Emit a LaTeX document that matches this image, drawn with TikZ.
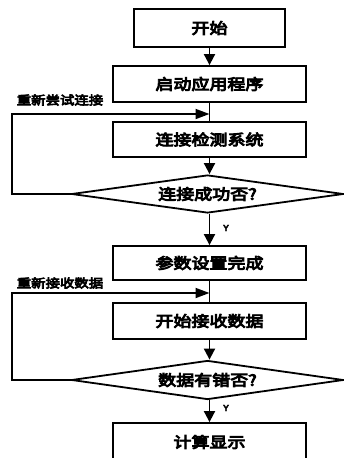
\documentclass[tikz,border=0pt]{standalone}
\usepackage{fontspec}
\newfontfamily\cjk[FakeBold=6,FakeStretch=1.2]{Noto Sans CJK SC}
\newfontfamily\ylabfont[FakeBold=3]{Liberation Sans}
\usetikzlibrary{shapes.geometric,arrows.meta}
\tikzset{
  box/.style={draw, line width=1.8pt, minimum width=193pt, inner sep=0pt, font=\cjk\fontsize{15}{15}\selectfont},
  dec/.style={draw, diamond, aspect=7.13, line width=1.8pt, minimum width=272pt, minimum height=38pt, inner sep=0pt, font=\cjk\fontsize{15}{15}\selectfont},
  flow/.style={line width=1.8pt},
  arr/.style={line width=1.8pt, -{Triangle[length=11pt,width=11pt]}},
  side/.style={font=\cjk\fontsize{12}{12}\selectfont, inner sep=0pt},
  ylab/.style={font=\ylabfont\bfseries\fontsize{9}{9}\selectfont, inner sep=0pt}
}
\begin{document}
\begin{tikzpicture}[x=1pt,y=-1pt]
\useasboundingbox (0,0) rectangle (344,458);
\clip (0,0) rectangle (344,458);
\fill[white] (0,0) rectangle (344,458);
\node[box, minimum width=151pt, minimum height=38pt] (b1) at (209.5,28) {开始};
\node[box, minimum height=36pt] (b2) at (209.5,84) {启动应用程序};
\node[box, minimum height=35pt] (b3) at (209.5,139.5) {连接检测系统};
\node[dec] (d1) at (207.5,194) {连接成功否?};
\node[box, minimum height=34pt] (b4) at (209.5,263) {参数设置完成};
\node[box, minimum height=36pt] (b5) at (209.5,321) {开始接收数据};
\node[dec, aspect=6.97, minimum height=39pt] (d2) at (207.5,380) {数据有错否?};
\node[box, minimum height=38pt] (b6) at (209.5,442) {计算显示};
\node[side] (l1) at (60,100) {重新尝试连接};
\node[side] (l2) at (60,283) {重新接收数据};
\node[ylab] (y1) at (226,228) {Y};
\node[ylab] (y2) at (226,408) {Y};
\coordinate (f1) at (209.5,114);
\coordinate (f2) at (209.5,293);
\coordinate (c1) at (12,194);
\coordinate (c2) at (12,380);
% main flow
\draw[arr] (b1) -- (b2);
\draw[flow] (b2) -- (b3);
\draw[arr] (b3.south) -- (b3.south |- d1.north);
\draw[arr] (b4.north |- d1.south) -- (b4.north);
\draw[flow] (b4) -- (b5);
\draw[arr] (b5.south) -- (b5.south |- d2.north);
\draw[arr] (b6.north |- d2.south) -- (b6.north);
% feedback loops
\draw[arr, -{Triangle[length=14pt,width=10pt]}] (d1.west) -- (c1) |- (f1);
\draw[arr, -{Triangle[length=14pt,width=10pt]}] (d2.west) -- (c2) |- (f2);
\end{tikzpicture}
\end{document}
